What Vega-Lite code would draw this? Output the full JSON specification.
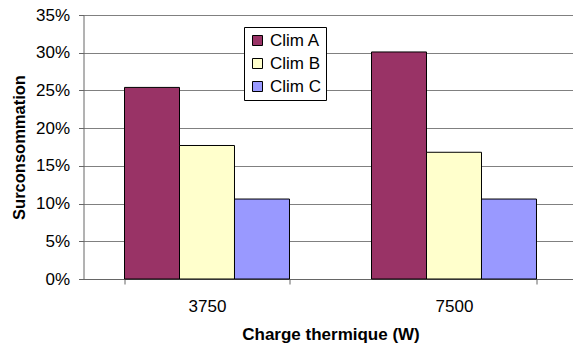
{
  "$schema": "https://vega.github.io/schema/vega-lite/v6.json",
  "width": 494,
  "height": 264,
  "autosize": {"type": "none"},
  "padding": {"left": 83.5, "top": 15, "right": 0, "bottom": 65},
  "background": "white",
  "config": {
    "font": "Liberation Sans",
    "view": {"stroke": null}
  },
  "data": {
    "values": [
      {"charge": "3750", "serie": "Clim A", "valeur": 0.254},
      {"charge": "3750", "serie": "Clim B", "valeur": 0.177},
      {"charge": "3750", "serie": "Clim C", "valeur": 0.106},
      {"charge": "7500", "serie": "Clim A", "valeur": 0.301},
      {"charge": "7500", "serie": "Clim B", "valeur": 0.168},
      {"charge": "7500", "serie": "Clim C", "valeur": 0.106}
    ]
  },
  "mark": {"type": "bar", "stroke": "black", "strokeWidth": 1},
  "encoding": {
    "x": {
      "field": "charge",
      "type": "nominal",
      "scale": {"paddingInner": 0.332, "paddingOuter": 0.166},
      "axis": {
        "title": "Charge thermique (W)",
        "titleFontSize": 17,
        "titleFontWeight": "bold",
        "titleColor": "black",
        "titlePadding": 12,
        "labelAngle": 0,
        "labelFontSize": 17,
        "labelColor": "black",
        "labelPadding": 14,
        "tickBand": "extent",
        "tickSize": 5,
        "tickColor": "#666",
        "domainColor": "#666",
        "grid": false
      }
    },
    "xOffset": {
      "field": "serie",
      "type": "nominal",
      "scale": {"paddingInner": 0, "paddingOuter": 0}
    },
    "y": {
      "field": "valeur",
      "type": "quantitative",
      "scale": {"domain": [0, 0.35], "nice": false},
      "axis": {
        "title": "Surconsommation",
        "titleFontSize": 16.5,
        "titleFontWeight": "bold",
        "titleColor": "black",
        "titlePadding": 8,
        "format": ".0%",
        "values": [0, 0.05, 0.1, 0.15, 0.2, 0.25, 0.3, 0.35],
        "labelFontSize": 17,
        "labelColor": "black",
        "labelPadding": 9,
        "tickSize": 5,
        "tickColor": "#666",
        "domainColor": "#666",
        "gridColor": "#808080",
        "gridOpacity": 1
      }
    },
    "color": {
      "field": "serie",
      "type": "nominal",
      "scale": {"domain": ["Clim A", "Clim B", "Clim C"], "range": ["#993366", "#FFFFCC", "#9999FF"]},
      "legend": {
        "title": null,
        "orient": "none",
        "legendX": 160.5,
        "legendY": 12,
        "strokeColor": "black",
        "fillColor": "white",
        "padding": 5,
        "rowPadding": 5,
        "symbolType": "square",
        "symbolSize": 100,
        "symbolStrokeColor": "black",
        "symbolStrokeWidth": 1,
        "symbolOpacity": 1,
        "labelFontSize": 17,
        "labelColor": "black",
        "labelOffset": 4
      }
    }
  }
}
